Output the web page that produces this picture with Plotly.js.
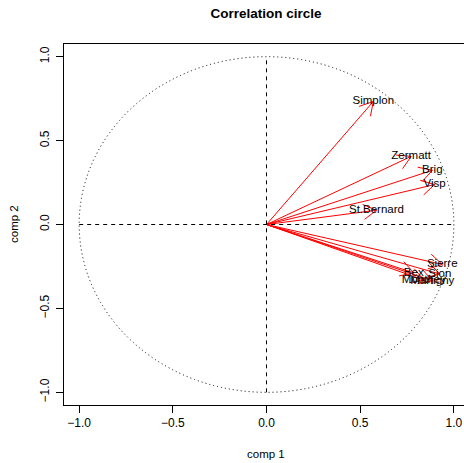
<!DOCTYPE html>
<html><head><meta charset="utf-8">
<script src="https://cdn.plot.ly/plotly-3.0.1.min.js"></script>
<style>html,body{margin:0;padding:0;background:#fff}</style>
</head><body>
<div id="chart" style="width:464px;height:463px"></div>
<script>
// Stations and their correlations with the first two components
const stations = ["Simplon","Zermatt","Brig","Visp","St.Bernard","Sierre","Bex","Sion","Monthey","Martigny"];
const comp1 = [0.570,0.772,0.885,0.897,0.587,0.938,0.786,0.925,0.840,0.885];
const comp2 = [0.733,0.406,0.323,0.238,0.085,-0.238,-0.288,-0.295,-0.331,-0.335];
const tickVals = [-1,-0.5,0,0.5,1];
const tickText = ["\u22121.0","\u22120.5","0.0","0.5","1.0"];

const FONT = "Liberation Sans, Arial, Helvetica, sans-serif";
const M = {l:64, r:0, t:44, b:58};
const W = 464, H = 463;
const XR = [-1.0809, 1.0541], YR = [-1.0755, 1.0755];
// pixel per data unit (used only to shape arrowheads like R's arrows(): 15px legs at 30 degrees)
const sx = (W - M.l - M.r) / (XR[1] - XR[0]);
const sy = (H - M.t - M.b) / (YR[1] - YR[0]);

function arrowTrace(x, y) {
  const px = x * sx, py = y * sy;
  const ang = Math.atan2(py, px), L = 15, a = Math.PI / 6;
  const l1 = [px - L * Math.cos(ang - a), py - L * Math.sin(ang - a)];
  const l2 = [px - L * Math.cos(ang + a), py - L * Math.sin(ang + a)];
  return {
    type:'scatter', mode:'lines',
    x:[0, x, null, l1[0] / sx, x, l2[0] / sx],
    y:[0, y, null, l1[1] / sy, y, l2[1] / sy],
    line:{color:'#ff0000', width:1}, hoverinfo:'skip', showlegend:false, cliponaxis:false
  };
}

const traces = stations.map((s, i) => arrowTrace(comp1[i], comp2[i]));
traces.push({
  type:'scatter', mode:'text', x: comp1, y: comp2, text: stations,
  textposition:'middle center', cliponaxis:false,
  textfont:{family:FONT, size:11.5, color:'#000'}, hoverinfo:'skip', showlegend:false
});

const axisCommon = {
  tickvals: tickVals, ticktext: tickText, ticks:'outside', ticklen:7, tickwidth:1,
  tickcolor:'#000', showgrid:false, zeroline:false, showline:true, linecolor:'#000',
  linewidth:1, tickfont:{family:FONT, size:12, color:'#000'}, automargin:false, fixedrange:true
};

const layout = {
  width:W, height:H,
  margin:{l:M.l, r:M.r, t:M.t, b:M.b, pad:0},
  paper_bgcolor:'#fff', plot_bgcolor:'#fff',
  showlegend:false,
  title:{text:'<b>Correlation circle</b>', font:{family:FONT, size:13.5, color:'#000'},
         xref:'container', yref:'container', x:266/464, y:1-13/463, xanchor:'center', yanchor:'middle'},
  xaxis: Object.assign({}, axisCommon, {range:XR, mirror:true}),
  yaxis: Object.assign({}, axisCommon, {range:YR, mirror:false, tickangle:-90, ticklabelstandoff:2}),
  shapes:[
    {type:'circle', xref:'x', yref:'y', x0:-1, x1:1, y0:-1, y1:1,
     line:{color:'#000', width:1, dash:'1px,3px'}},
    {type:'line', xref:'x', yref:'y', x0:-1, x1:1, y0:0, y1:0,
     line:{color:'#000', width:1, dash:'4px,4px'}},
    {type:'line', xref:'x', yref:'y', x0:0, x1:0, y0:-1, y1:1,
     line:{color:'#000', width:1, dash:'4px,4px'}}
  ],
  annotations: [
    {text:'comp 1', xref:'paper', yref:'paper', x:(266-64)/400, y:(405-454)/361,
     xanchor:'center', yanchor:'middle', showarrow:false, font:{family:FONT, size:11.5, color:'#000'}},
    {text:'comp 2', xref:'paper', yref:'paper', x:(14-64)/400, y:(405-224)/361,
     xanchor:'center', yanchor:'middle', textangle:-90, showarrow:false, font:{family:FONT, size:11.5, color:'#000'}}
  ]
};

Plotly.newPlot('chart', traces, layout, {displayModeBar:false, staticPlot:true});
</script>
</body></html>
